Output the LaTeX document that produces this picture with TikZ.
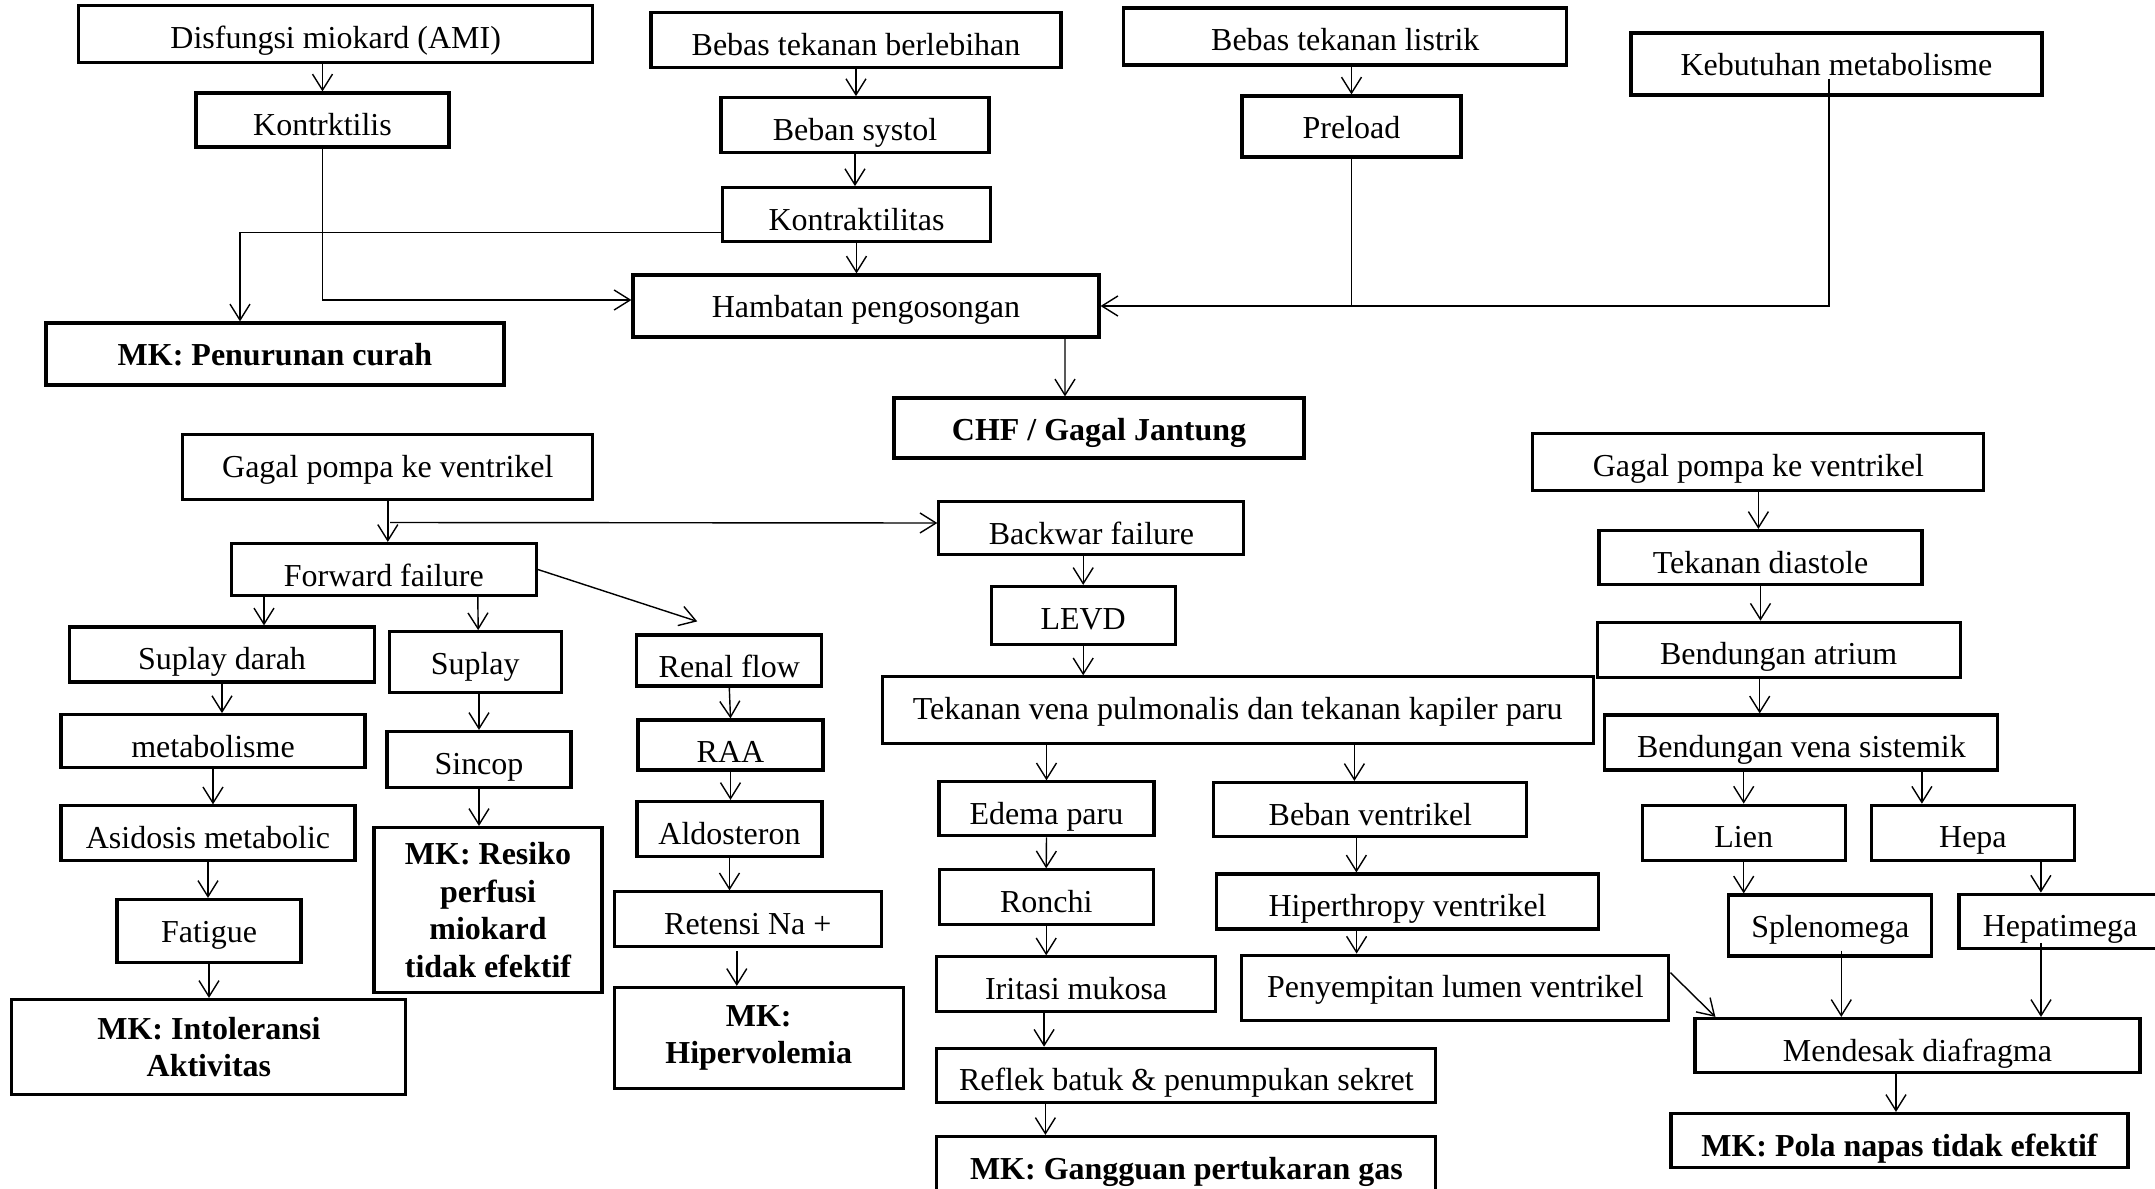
\documentclass[tikz,border=0pt]{standalone}
\usepackage{fontspec}
\setmainfont{Liberation Serif}
\usetikzlibrary{arrows.meta}
\tikzset{
  box/.style={draw, line width=0.9pt, inner sep=0pt, align=center,
              font=\fontsize{9.1}{10.7}\selectfont},
  mkbox/.style={box, font=\fontsize{9.1}{10.7}\selectfont\bfseries},
  szm/.style 2 args={minimum width=#1cm, minimum height=#2cm},
  sz/.style 2 args={szm={#1}{#2}, text height=0.425cm, text depth=#2cm-0.425cm},
  arr/.style={-{Straight Barb[length=1.6mm, width=2mm]}, line width=0.4pt},
  ln/.style={line width=0.4pt},
}
\begin{document}
\begin{tikzpicture}
  \useasboundingbox (0,0) rectangle (21.55,11.88);
  \clip (0,0) rectangle (21.55,11.88);
  % atas
  \node[box, sz={5.14}{0.57}] (dis) at (3.357,11.536) {Disfungsi miokard (AMI)};
  \node[box, sz={2.53}{0.54}] (kon1) at (3.225,10.68) {Kontrktilis};
  \node[box, sz={4.10}{0.55}] (beb1) at (8.56,11.48) {Bebas tekanan berlebihan};
  \node[box, sz={2.68}{0.55}] (sys) at (8.55,10.628) {Beban systol};
  \node[box, sz={2.68}{0.54}] (kon2) at (8.565,9.733) {Kontraktilitas};
  \node[box, sz={4.66}{0.62}] (hamb) at (8.66,8.82) {Hambatan pengosongan};
  \node[mkbox, sz={4.58}{0.62}] (mk1) at (2.75,8.34) {MK: Penurunan curah};
  \node[box, sz={4.43}{0.57}] (beb2) at (13.453,11.515) {Bebas tekanan listrik};
  \node[box, sz={2.19}{0.61}] (pre) at (13.515,10.615) {Preload};
  \node[box, sz={4.11}{0.62}] (keb) at (18.365,11.24) {Kebutuhan metabolisme};
  \node[mkbox, sz={4.10}{0.60}] (chf) at (10.99,7.60) {CHF / Gagal Jantung};
  % kiri
  \node[box, sz={4.10}{0.65}] (gpl) at (3.878,7.21) {Gagal pompa ke ventrikel};
  \node[box, sz={3.05}{0.52}] (fwd) at (3.838,6.185) {Forward failure};
  \node[box, sz={3.05}{0.55}] (sd) at (2.22,5.335) {Suplay darah};
  \node[box, sz={1.72}{0.61}] (sup) at (4.752,5.258) {Suplay};
  \node[box, sz={1.85}{0.51}] (ren) at (7.293,5.275) {Renal flow};
  \node[box, sz={3.04}{0.53}] (met) at (2.13,4.468) {metabolisme};
  \node[box, sz={1.84}{0.56}] (sin) at (4.79,4.285) {Sincop};
  \node[box, sz={1.85}{0.50}] (raa) at (7.305,4.43) {RAA};
  \node[box, sz={2.94}{0.55}] (asi) at (2.08,3.546) {Asidosis metabolic};
  \node[box, sz={1.84}{0.63}] (fat) at (2.09,2.57) {Fatigue};
  \node[mkbox, szm={3.94}{0.95}] (mk2) at (2.089,1.41) {MK: Intoleransi\\Aktivitas};
  \node[mkbox, szm={2.28}{1.65}] (mk3) at (4.88,2.78) {MK: Resiko\\perfusi\\miokard\\tidak efektif};
  \node[box, sz={1.85}{0.55}] (ald) at (7.295,3.59) {Aldosteron};
  \node[box, sz={2.67}{0.55}] (ret) at (7.478,2.686) {Retensi Na +};
  \node[mkbox, szm={2.89}{1.01}] (mk4) at (7.587,1.50) {MK:\\Hipervolemia};
  % tengah
  \node[box, sz={3.05}{0.53}] (bwf) at (10.914,6.60) {Backwar failure};
  \node[box, sz={1.84}{0.58}] (levd) at (10.832,5.725) {LEVD};
  \node[box, sz={7.11}{0.67}] (tvp) at (12.377,4.776) {Tekanan vena pulmonalis dan tekanan kapiler paru};
  \node[box, sz={2.15}{0.54}] (ede) at (10.465,3.791) {Edema paru};
  \node[box, sz={3.13}{0.54}] (bve) at (13.704,3.785) {Beban ventrikel};
  \node[box, sz={2.14}{0.55}] (ron) at (10.462,2.906) {Ronchi};
  \node[box, sz={3.82}{0.55}] (hip) at (14.076,2.865) {Hiperthropy ventrikel};
  \node[box, sz={2.79}{0.55}] (iri) at (10.761,2.036) {Iritasi mukosa};
  \node[box, sz={4.27}{0.65}] (pen) at (14.554,2.003) {Penyempitan lumen ventrikel};
  \node[box, sz={4.99}{0.54}] (ref) at (11.864,1.127) {Reflek batuk \& penumpukan sekret};
  \node[mkbox, sz={4.99}{0.55}] (mk5) at (11.864,0.24) {MK: Gangguan pertukaran gas};
  % kanan
  \node[box, sz={4.51}{0.57}] (gpr) at (17.584,7.26) {Gagal pompa ke ventrikel};
  \node[box, sz={3.23}{0.54}] (tdi) at (17.605,6.305) {Tekanan diastole};
  \node[box, sz={3.63}{0.55}] (bat) at (17.787,5.382) {Bendungan atrium};
  \node[box, sz={3.93}{0.55}] (bvs) at (18.014,4.455) {Bendungan vena sistemik};
  \node[box, sz={2.03}{0.55}] (lien) at (17.437,3.553) {Lien};
  \node[box, sz={2.03}{0.55}] (hepa) at (19.729,3.552) {Hepa};
  \node[box, sz={2.03}{0.61}] (spl) at (18.303,2.625) {Splenomega};
  \node[box, sz={2.02}{0.54}] (hpt) at (20.60,2.668) {Hepatimega};
  \node[box, sz={4.45}{0.54}] (des) at (19.175,1.425) {Mendesak diafragma};
  \node[mkbox, sz={4.57}{0.54}] (mk6) at (18.995,0.475) {MK: Pola napas tidak efektif};

  \draw[arr] (kon1.north |- dis.south) -- (kon1.north);
  \draw[arr] (kon1.south) |- ([yshift=0.06cm]hamb.west);
  \draw[arr] ([yshift=-0.18cm]kon2.west) -| ([xshift=-0.35cm]mk1.north);
  \draw[arr] (beb1.south) -- (beb1.south |- sys.north);
  \draw[arr] (sys.south) -- (sys.south |- kon2.north);
  \draw[arr] (kon2.south) -- (kon2.south |- hamb.north);
  \draw[arr] ([xshift=1.99cm]hamb.south) -- ([xshift=-0.34cm]chf.north);
  \draw[arr] (pre.north |- beb2.south) -- (pre.north);
  \draw[arr] (pre.south) |- (hamb.east);
  \draw[ln] ([xshift=-0.075cm,yshift=0.18cm]keb.south) |- (pre.south |- hamb.east);

  \coordinate (split) at (3.90,6.655);
  \draw[arr] (gpl.south) -- (gpl.south |- fwd.north);
  \draw[arr] (split) -- ([yshift=0.05cm]bwf.west);
  \draw[arr] ([xshift=-1.198cm]fwd.south) -- ([xshift=0.42cm]sd.north);
  \draw[arr] ([xshift=0.94cm]fwd.south) -- ([xshift=0.03cm]sup.north);
  \draw[arr] (fwd.east) -- ([xshift=-0.32cm,yshift=0.12cm]ren.north);
  \draw[arr] (sd.south) -- (sd.south |- met.north);
  \draw[arr] (sin.north |- sup.south) -- (sin.north);
  \draw[arr] (ren.south) -- (raa.north);
  \draw[arr] (met.south) -- (met.south |- asi.north);
  \draw[arr] (sin.south) -- (sin.south |- mk3.north);
  \draw[arr] (raa.south) -- (raa.south |- ald.north);
  \draw[arr] (asi.south) -- (asi.south |- fat.north);
  \draw[arr] (fat.south) -- (fat.south |- mk2.north);
  \draw[arr] (ald.south) -- (ald.south |- ret.north);
  \draw[arr] ([xshift=-0.11cm,yshift=-0.03cm]ret.south) -- ([xshift=-0.11cm]ret.south |- mk4.north);

  \draw[arr] (levd.north |- bwf.south) -- (levd.north);
  \draw[arr] (levd.south) -- (levd.south |- tvp.north);
  \draw[arr] (ede.north |- tvp.south) -- (ede.north);
  \draw[arr] ([xshift=-0.16cm]bve.north |- tvp.south) -- ([xshift=-0.16cm]bve.north);
  \draw[arr] (ede.south) -- (ron.north);
  \draw[arr] ([xshift=-0.14cm]bve.south) -- ([xshift=-0.14cm]bve.south |- hip.north);
  \draw[arr] (ron.south) -- (ron.south |- iri.north);
  \draw[arr] ([xshift=-0.51cm]hip.south) -- ([xshift=-0.51cm]hip.south |- pen.north);
  \draw[arr] ([xshift=-0.32cm]iri.south) -- ([xshift=-0.32cm]iri.south |- ref.north);
  \draw[arr] ([xshift=-1.41cm]ref.south) -- ([xshift=-1.41cm]ref.south |- mk5.north);
  \draw[arr] ([yshift=0.15cm]pen.east) -- ([xshift=0.22cm]des.north west);

  \draw[arr] (gpr.south) -- (gpr.south |- tdi.north);
  \draw[arr] (tdi.south) -- (tdi.south |- bat.north);
  \draw[arr] ([xshift=-0.19cm]bat.south) -- ([xshift=-0.19cm]bat.south |- bvs.north);
  \draw[arr] (lien.north |- bvs.south) -- (lien.north);
  \draw[arr] ([xshift=-0.51cm]hepa.north |- bvs.south) -- ([xshift=-0.51cm]hepa.north);
  \draw[arr] (lien.south) -- (lien.south |- spl.north);
  \draw[arr] ([xshift=0.68cm]hepa.south) -- ([xshift=0.68cm]hepa.south |- hpt.north);
  \draw[arr] ([xshift=0.11cm,yshift=0.07cm]spl.south) -- ([xshift=0.11cm]spl.south |- des.north);
  \draw[arr] ([xshift=-0.19cm,yshift=0.07cm]hpt.south) -- ([xshift=-0.19cm]hpt.south |- des.north);
  \draw[arr] ([xshift=-0.215cm]des.south) -- ([xshift=-0.215cm]des.south |- mk6.north);
\end{tikzpicture}
\end{document}
